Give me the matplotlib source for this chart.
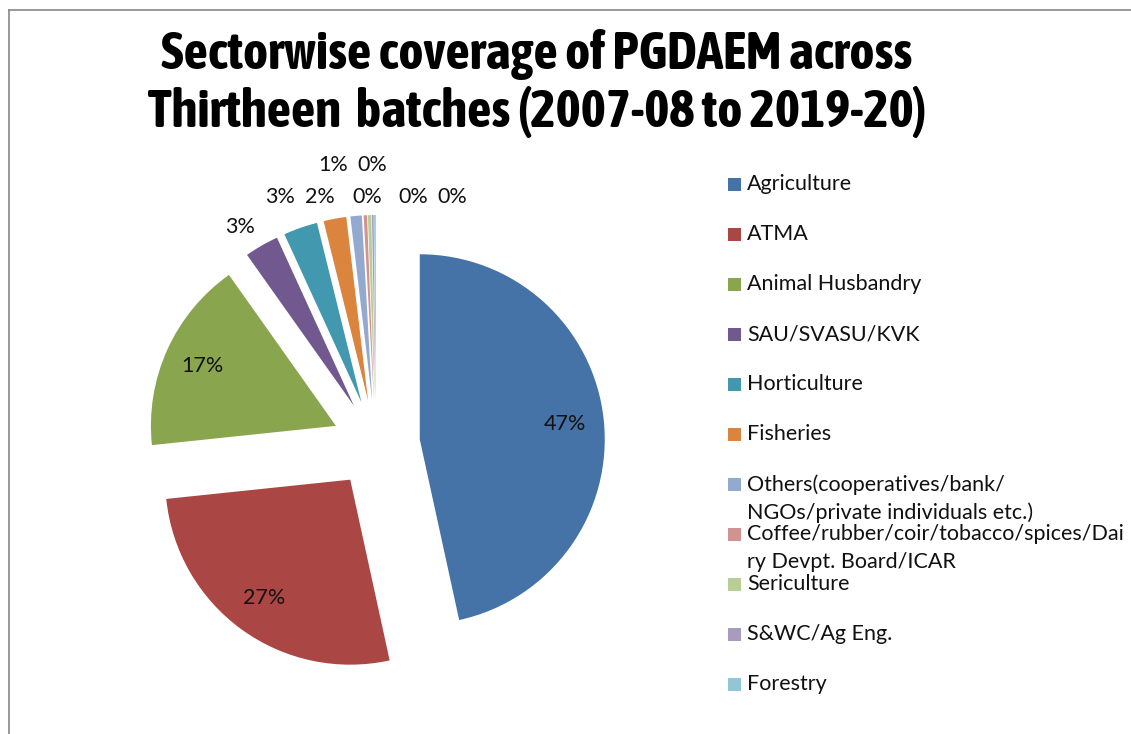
import math
import matplotlib
matplotlib.use("Agg")
import matplotlib.pyplot as plt
from matplotlib.patches import Rectangle
from matplotlib.lines import Line2D

categories = ["Agriculture", "ATMA", "Animal Husbandry", "SAU/SVASU/KVK", "Horticulture",
              "Fisheries", "Others(cooperatives/bank/\nNGOs/private individuals etc.)",
              "Coffee/rubber/coir/tobacco/spices/Dai\nry Devpt. Board/ICAR",
              "Sericulture", "S&WC/Ag Eng.", "Forestry"]
shares = [47, 27, 17, 3, 3, 2, 1, 0.3, 0.3, 0.15, 0.15]
pct_labels = ["47%", "27%", "17%", "3%", "3%", "2%", "1%", "0%", "0%", "0%", "0%"]
colors = ["#4572A7", "#AA4643", "#89A54E", "#71588F", "#4198AF", "#DB843D",
          "#93A9CF", "#D19392", "#B9CD96", "#A99BBD", "#92C5D6"]

W, H = 1131, 734
fig = plt.figure(figsize=(W / 100, H / 100), dpi=100)
ax = fig.add_axes([0, 0, 1, 1])

# geometry in pixels
cx, cy, R = 376, 444, 185
font = "Lato"
wedges, texts = ax.pie(shares, colors=colors, startangle=90, counterclock=False,
                       explode=[44 / R] * len(shares), radius=1, center=(0, 0),
                       wedgeprops=dict(linewidth=0))
ax.set_xlim((0 - cx) / R, (W - cx) / R)
ax.set_ylim((cy - H) / R, cy / R)
ax.set_aspect("equal")
ax.axis("off")

# percentage labels: inside for big slices, outside (Excel-style) for small ones
outside_px = [None, None, None, (240, 227), (280, 197), (320, 197), (333, 165),
              (372, 165), (367, 197), (413, 197), (452, 197)]
for w, lab, pos in zip(wedges, pct_labels, outside_px):
    if pos is None:
        thm = math.radians((w.theta1 + w.theta2) / 2)
        x = w.center[0] + 0.79 * math.cos(thm)
        y = w.center[1] + 0.79 * math.sin(thm)
    else:
        x = (pos[0] - cx) / R
        y = (cy - pos[1]) / R
    ax.text(x, y, lab, ha="center", va="center", fontsize=15.5, family=font, color="#111111")

# title
tfont = "Asap Condensed"
fig.text(537 / W, 1 - 69 / H, "Sectorwise coverage of PGDAEM across", ha="center", va="baseline",
         fontsize=38.5, fontweight="bold", family=tfont)
fig.text(537 / W, 1 - 127 / H, "Thirtheen  batches (2007-08 to 2019-20)", ha="center", va="baseline",
         fontsize=38.5, fontweight="bold", family=tfont)

# legend (Excel-like fixed spacing)
for i, (lab, col) in enumerate(zip(categories, colors)):
    yc = 184 + 50 * i
    fig.add_artist(Rectangle((728 / W, 1 - (yc + 6.5) / H), 13 / W, 13 / H,
                             transform=fig.transFigure, facecolor=col, edgecolor="none"))
    fig.text(747 / W, 1 - (yc - 10) / H, lab, ha="left", va="top", fontsize=15.5,
             family=font, color="#111111", linespacing=1.5)

# chart border
fig.add_artist(Line2D([9 / W, 9 / W], [0, 1 - 10 / H], transform=fig.transFigure,
                      color="#888888", linewidth=1.2))
fig.add_artist(Line2D([9 / W, 1], [1 - 10 / H, 1 - 10 / H], transform=fig.transFigure,
                      color="#888888", linewidth=1.2))

fig.savefig("out.png", dpi=100, facecolor="white")
